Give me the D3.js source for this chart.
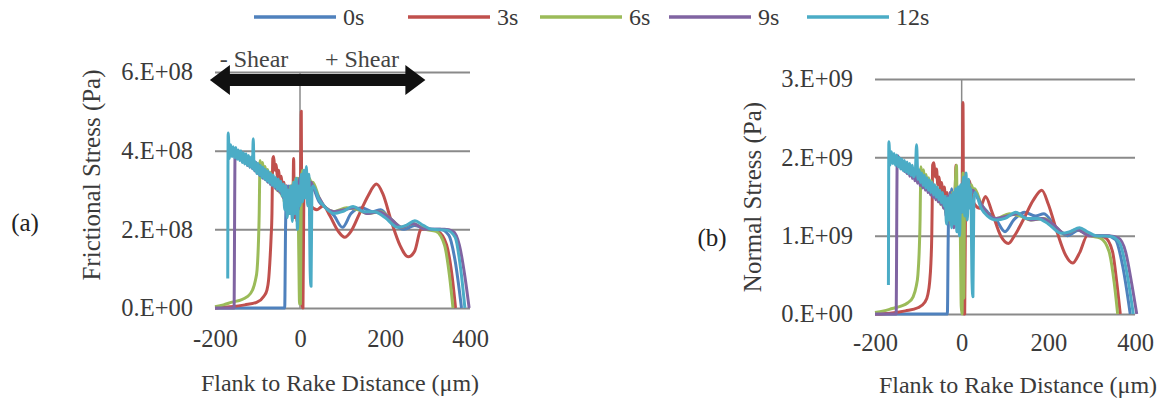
<!DOCTYPE html>
<html>
<head>
<meta charset="utf-8">
<script src="https://cdn.jsdelivr.net/npm/d3@7"></script>
<style>
    body { margin: 0; background: #fff; }
    svg { display: block; font-family: "Liberation Serif", "Times New Roman", serif; }
</style>
</head>
<body>
<svg id="chart" width="1167" height="403"></svg>
<script>
'use strict';

// ---- data (x in µm, y in units of the panel, see unit below) ----
const seriesNames = ['0s', '3s', '6s', '9s', '12s'];
const seriesColors = ['#4F81BD', '#C0504D', '#9BBB59', '#8064A2', '#4BACC6'];
const distanceTicks = [-200, 0, 200, 400];
const frictionTicks = [0, 2e8, 4e8, 6e8];
const normalTicks = [0, 1e9, 2e9, 3e9];

// frictional stress, x1e8 Pa
const friction0s = [[-200,0],[-36,0],[-34,2.0],[-32,2.9],[-29,2.4],[-26,3.1],[-23,2.5],[-20,3.0],[-17,2.3],[-14,3.2],[-11,2.5],[-8,3.1],[-5,2.4],[-2,3.3],[1,2.7],[4,3.4],[7,2.8],[10,3.4],[13,2.9],[16,3.3],[20,3.0],[25,3.2],[30,3.1],[45,2.7],[60,2.55],[80,2.35],[100,2.05],[120,2.4],[145,2.55],[170,2.45],[190,2.5],[215,2.2],[245,2.0],[270,2.1],[300,2.0],[330,2.0],[350,1.85],[365,1.2],[380,0]];
const friction3s = [[-200,0],[-165,0.03],[-130,0.08],[-101,0.15],[-85,0.3],[-78,0.45],[-74,0.7],[-71,1.15],[-68,1.8],[-66,2.4],[-65,3.2],[-64,3.8],[-62,3.85],[-59,3.5],[-56,3.65],[-53,3.3],[-50,3.5],[-47,3.15],[-44,3.35],[-41,3.0],[-38,3.2],[-35,2.8],[-32,3.1],[-29,2.7],[-26,3.0],[-23,2.6],[-20,2.9],[-17,2.5],[-15,3.8],[-13,2.3],[-10,2.7],[-7,2.2],[-4,2.8],[-1,2.5],[1,3.0],[3,5.0],[5,0.05],[7,0],[9,2.8],[13,3.2],[17,3.4],[21,2.9],[25,2.6],[40,2.5],[55,2.6],[70,2.35],[90,1.95],[105,1.8],[120,1.95],[140,2.4],[160,2.85],[180,3.15],[195,2.9],[215,2.2],[235,1.6],[255,1.3],[270,1.45],[285,2.0],[305,2.0],[325,1.95],[345,1.6],[358,0.8],[366,0]];
const friction6s = [[-200,0.03],[-180,0.08],[-160,0.15],[-140,0.2],[-125,0.28],[-112,0.45],[-105,0.7],[-101,0.97],[-98,1.6],[-96,2.4],[-95,3.2],[-94,3.75],[-91,3.5],[-88,3.7],[-85,3.4],[-82,3.6],[-79,3.3],[-76,3.52],[-73,3.22],[-70,3.45],[-67,3.15],[-64,3.38],[-61,3.08],[-58,3.3],[-55,3.0],[-52,3.24],[-49,2.95],[-46,3.18],[-43,2.85],[-40,3.1],[-37,2.7],[-34,3.05],[-31,2.5],[-28,3.0],[-25,2.4],[-22,3.1],[-19,2.5],[-16,3.2],[-13,2.6],[-10,3.3],[-7,2.7],[-5,3.3],[-3,1.5],[-1,0.1],[1,0.1],[3,3.0],[6,3.5],[10,3.2],[14,3.4],[18,3.1],[22,3.3],[26,3.2],[30,3.2],[45,2.8],[60,2.55],[80,2.45],[110,2.55],[135,2.5],[160,2.4],[190,2.45],[215,2.25],[240,2.05],[265,2.15],[295,2.0],[320,1.95],[340,1.6],[352,0.8],[360,0]];
const friction9s = [[-200,0],[-155,0],[-154,2.0],[-153,3.9],[-151,4.05],[-148,3.8],[-145,4.0],[-142,3.78],[-139,3.97],[-136,3.72],[-133,3.92],[-130,3.68],[-127,3.88],[-124,3.62],[-121,3.84],[-118,3.58],[-115,3.8],[-112,3.54],[-109,3.74],[-106,3.48],[-103,3.7],[-100,3.42],[-97,3.64],[-94,3.36],[-91,3.58],[-88,3.3],[-85,3.52],[-82,3.26],[-79,3.46],[-76,3.2],[-73,3.42],[-70,3.14],[-67,3.36],[-64,3.1],[-61,3.3],[-58,3.04],[-55,3.26],[-52,2.98],[-49,3.2],[-46,2.92],[-43,3.14],[-40,2.8],[-37,3.1],[-34,2.6],[-31,3.1],[-28,2.4],[-25,3.0],[-22,2.5],[-19,3.1],[-16,2.3],[-13,3.1],[-10,2.4],[-7,3.2],[-4,2.5],[-1,3.3],[2,2.7],[5,3.4],[8,2.8],[11,3.4],[14,3.0],[18,3.3],[22,3.1],[26,3.2],[30,3.1],[45,2.8],[60,2.55],[80,2.45],[105,2.5],[130,2.55],[160,2.4],[185,2.45],[210,2.3],[240,2.05],[265,2.15],[295,2.0],[340,2.0],[360,1.95],[375,1.6],[388,0.8],[398,0]];
const friction12s = [[-170,0.75],[-169,4.45],[-166,3.8],[-163,4.15],[-160,3.85],[-157,4.1],[-154,3.82],[-151,4.08],[-148,3.78],[-145,4.02],[-142,3.75],[-139,4.0],[-136,3.7],[-133,3.95],[-130,3.66],[-127,3.92],[-124,3.62],[-121,3.88],[-118,3.58],[-115,3.84],[-112,3.55],[-110,4.3],[-108,3.5],[-105,3.72],[-102,3.42],[-99,3.68],[-96,3.38],[-93,3.62],[-90,3.32],[-87,3.58],[-84,3.28],[-81,3.52],[-78,3.22],[-75,3.48],[-72,3.18],[-69,3.42],[-66,3.12],[-63,3.38],[-60,3.08],[-57,3.32],[-54,3.02],[-51,3.28],[-48,2.98],[-45,3.22],[-42,2.85],[-39,3.15],[-36,2.5],[-33,3.1],[-30,2.3],[-27,3.0],[-24,2.4],[-21,3.1],[-18,2.2],[-15,3.2],[-12,2.4],[-9,3.3],[-6,2.0],[-3,3.1],[0,2.6],[3,3.4],[6,2.7],[9,3.5],[12,2.8],[15,3.6],[18,2.6],[21,3.4],[24,0.9],[26,0.55],[28,3.0],[31,3.1],[45,2.75],[60,2.55],[80,2.4],[100,2.45],[125,2.58],[150,2.45],[175,2.45],[200,2.3],[230,2.05],[250,2.1],[270,2.22],[290,2.1],[310,2.0],[345,1.98],[365,1.8],[378,1.0],[388,0]];

// normal stress, x1e9 Pa
const normal0s = [[-200,0],[-33,0],[-31,1.0],[-29,1.5],[-26,1.2],[-23,1.6],[-20,1.15],[-17,1.55],[-14,1.2],[-11,1.6],[-8,1.25],[-5,1.62],[-2,1.3],[1,1.65],[4,1.35],[7,1.7],[10,1.45],[14,1.68],[18,1.5],[22,1.62],[26,1.55],[30,1.55],[45,1.4],[60,1.3],[80,1.2],[100,1.05],[120,1.2],[145,1.3],[170,1.25],[190,1.28],[215,1.12],[245,1.0],[270,1.07],[300,1.0],[335,1.0],[355,0.95],[372,0.6],[389,0]];
const normal3s = [[-200,0],[-165,0.01],[-130,0.04],[-101,0.08],[-85,0.15],[-78,0.25],[-74,0.4],[-71,0.65],[-69,1.0],[-68,1.4],[-67,1.9],[-64,1.93],[-61,1.75],[-58,1.85],[-55,1.65],[-52,1.75],[-49,1.58],[-46,1.68],[-43,1.5],[-40,1.62],[-37,1.42],[-34,1.55],[-31,1.35],[-28,1.5],[-25,1.3],[-22,1.45],[-19,1.2],[-16,1.35],[-13,1.9],[-11,1.1],[-7,1.4],[-3,1.2],[1,1.5],[3,2.7],[5,0],[7,0],[9,1.4],[13,1.6],[18,1.7],[24,1.5],[30,1.4],[42,1.35],[55,1.5],[70,1.3],[90,1.0],[108,0.9],[122,1.0],[142,1.2],[165,1.45],[185,1.58],[200,1.4],[220,1.05],[240,0.75],[256,0.65],[272,0.78],[290,1.0],[310,1.0],[330,0.98],[348,0.8],[358,0.4],[366,0]];
const normal6s = [[-200,0.02],[-180,0.04],[-160,0.07],[-140,0.1],[-125,0.14],[-112,0.22],[-105,0.35],[-101,0.5],[-98,0.8],[-96,1.2],[-95,1.6],[-94,1.88],[-91,1.72],[-88,1.84],[-85,1.66],[-82,1.78],[-79,1.6],[-76,1.74],[-73,1.56],[-70,1.7],[-67,1.52],[-64,1.65],[-61,1.48],[-58,1.62],[-55,1.44],[-52,1.58],[-49,1.4],[-46,1.54],[-43,1.36],[-40,1.5],[-37,1.3],[-34,1.5],[-31,1.2],[-28,1.5],[-25,1.15],[-22,1.55],[-19,1.2],[-16,1.5],[-12,1.9],[-10,1.2],[-6,1.6],[-3,1.0],[-1,0.1],[1,0],[3,1.8],[5,0.2],[7,1.75],[10,1.6],[14,1.7],[18,1.55],[22,1.65],[26,1.6],[30,1.6],[45,1.4],[60,1.28],[80,1.22],[110,1.28],[135,1.25],[160,1.2],[190,1.22],[215,1.12],[240,1.02],[265,1.08],[295,1.0],[320,0.97],[340,0.8],[352,0.4],[360,0]];
const normal9s = [[-200,0],[-151,0],[-150,1.0],[-149,1.95],[-147,2.02],[-144,1.88],[-141,1.98],[-138,1.85],[-135,1.95],[-132,1.82],[-129,1.92],[-126,1.79],[-123,1.9],[-120,1.76],[-117,1.87],[-114,1.73],[-111,1.84],[-108,1.7],[-105,1.81],[-102,1.67],[-99,1.78],[-96,1.64],[-93,1.75],[-90,1.61],[-87,1.72],[-84,1.58],[-81,1.69],[-78,1.55],[-75,1.66],[-72,1.52],[-69,1.63],[-66,1.49],[-63,1.6],[-60,1.46],[-57,1.57],[-54,1.43],[-51,1.54],[-48,1.4],[-45,1.52],[-42,1.35],[-39,1.5],[-36,1.25],[-33,1.5],[-30,1.2],[-27,1.55],[-24,1.15],[-21,1.5],[-18,1.1],[-15,1.55],[-12,1.2],[-9,1.6],[-6,1.25],[-3,1.62],[0,1.3],[3,1.7],[6,1.45],[10,1.68],[14,1.5],[18,1.62],[22,1.55],[26,1.58],[30,1.55],[45,1.4],[60,1.28],[80,1.22],[105,1.25],[130,1.28],[160,1.2],[185,1.22],[210,1.15],[240,1.02],[265,1.08],[295,1.0],[340,1.0],[362,0.97],[378,0.8],[392,0.4],[404,0]];
const normal12s = [[-169,0.37],[-168,2.2],[-165,1.9],[-162,2.07],[-159,1.92],[-156,2.05],[-153,1.9],[-150,2.03],[-147,1.88],[-144,2.0],[-141,1.85],[-138,1.98],[-135,1.83],[-132,1.96],[-129,1.81],[-126,1.94],[-123,1.79],[-120,1.92],[-117,1.77],[-114,1.9],[-111,1.75],[-107,1.82],[-104,2.16],[-101,1.72],[-98,1.84],[-95,1.68],[-92,1.8],[-89,1.64],[-86,1.77],[-83,1.61],[-80,1.74],[-77,1.58],[-74,1.71],[-71,1.55],[-68,1.68],[-65,1.52],[-62,1.65],[-59,1.49],[-56,1.62],[-53,1.46],[-50,1.58],[-47,1.42],[-44,1.55],[-41,1.38],[-38,1.5],[-35,1.15],[-32,1.48],[-29,1.2],[-26,1.52],[-23,1.1],[-20,1.55],[-17,1.15],[-14,1.6],[-11,1.05],[-8,1.62],[-5,1.0],[-2,1.65],[1,1.3],[4,1.75],[7,1.25],[10,1.8],[13,1.2],[16,1.72],[19,1.35],[21,1.6],[24,0.4],[26,0.22],[28,1.4],[31,1.55],[45,1.35],[60,1.25],[80,1.2],[100,1.22],[125,1.3],[150,1.22],[175,1.22],[200,1.15],[230,1.03],[250,1.05],[272,1.1],[290,1.05],[310,1.0],[345,0.99],[365,0.9],[382,0.5],[396,0]];

const panels = [
    {
        series: [friction0s, friction3s, friction6s, friction9s, friction12s],
        unit: 1e8, ticks: frictionTicks,
        x0: 215, x1: 470, yBottom: 308, yTop: 72,
        title: 'Frictional Stress (Pa)', titleX: 91, titleY: 175,
        tag: '(a)', tagX: 25, tagY: 222,
        xTickY: 347, xTitleX: 340, xTitleY: 391,
        shear: true
    },
    {
        series: [normal0s, normal3s, normal6s, normal9s, normal12s],
        unit: 1e9, ticks: normalTicks,
        x0: 875, x1: 1135, yBottom: 314, yTop: 79,
        title: 'Normal Stress (Pa)', titleX: 752, titleY: 197,
        tag: '(b)', tagX: 712, tagY: 237,
        xTickY: 351, xTitleX: 1018, xTitleY: 393,
        shear: false
    }
];

const svg = d3.select('#chart');
const GRID = '#8a8a8a';
const TEXT = '#3a3a3a';
const SERIF = '"Liberation Serif", "Times New Roman", serif';
const TICK_FONT = 24.5;

// "6.E+08" style labels
function sci(v) {
    if (v === 0) return '0.E+00';
    const e = Math.floor(Math.log10(v));
    const m = Math.round(v / Math.pow(10, e));
    return m + '.E+' + String(e).padStart(2, '0');
}

function drawPanel(p) {
    const x = d3.scaleLinear().domain([-200, 400]).range([p.x0, p.x1]);
    const y = d3.scaleLinear().domain([0, d3.max(p.ticks)]).range([p.yBottom, p.yTop]);
    const g = svg.append('g');

    // horizontal gridlines + y labels
    const yAxis = g.append('g')
        .attr('transform', `translate(${p.x0},0)`)
        .call(d3.axisLeft(y).tickValues(p.ticks).tickFormat(sci)
            .tickSize(-(p.x1 - p.x0)).tickPadding(22));
    yAxis.select('.domain').remove();
    yAxis.selectAll('line').attr('stroke', GRID).attr('stroke-width', 2);
    yAxis.selectAll('text').attr('fill', TEXT).style('font-size', TICK_FONT + 'px')
        .style('font-family', SERIF);

    // vertical axis line at x = 0
    g.append('line')
        .attr('x1', x(0)).attr('x2', x(0))
        .attr('y1', y(d3.max(p.ticks))).attr('y2', y(0))
        .attr('stroke', GRID).attr('stroke-width', 1.5);

    // x labels (plain hyphen minus, as in the source)
    const xAxis = g.append('g')
        .attr('transform', `translate(0,${p.xTickY - 0.71 * TICK_FONT})`)
        .call(d3.axisBottom(x).tickValues(distanceTicks).tickFormat(d => String(d))
            .tickSize(0).tickPadding(0));
    xAxis.select('.domain').remove();
    xAxis.selectAll('text').attr('fill', TEXT).attr('dy', '0.71em')
        .style('font-size', TICK_FONT + 'px').style('font-family', SERIF);

    // series
    const line = d3.line()
        .x(d => x(d[0]))
        .y(d => y(d[1] * p.unit))
        .curve(d3.curveMonotoneX);

    g.selectAll('.series')
        .data(p.series)
        .enter()
        .append('path')
        .attr('class', 'series')
        .attr('d', line)
        .attr('fill', 'none')
        .attr('stroke', (d, i) => seriesColors[i])
        .attr('stroke-width', 3)
        .attr('stroke-linejoin', 'round');

    // titles
    g.append('text')
        .attr('transform', `translate(${p.titleX},${p.titleY}) rotate(-90)`)
        .attr('text-anchor', 'middle').attr('dy', '0.35em')
        .attr('fill', TEXT).style('font-size', '25px')
        .text(p.title);

    g.append('text')
        .attr('x', p.xTitleX).attr('y', p.xTitleY)
        .attr('text-anchor', 'middle')
        .attr('fill', TEXT).style('font-size', '24px')
        .text('Flank to Rake Distance (μm)');

    g.append('text')
        .attr('x', p.tagX).attr('y', p.tagY)
        .attr('text-anchor', 'middle').attr('dy', '0.35em')
        .attr('fill', '#222').style('font-size', '25px')
        .text(p.tag);

    if (p.shear) drawShear(g, x);
}

function drawShear(g, x) {
    const cy = 80, half = 6, head = 15, len = 20;
    const l = x(-212), r = x(295);
    const pts = [
        [l, cy], [l + len, cy - head], [l + len, cy - half], [r - len, cy - half],
        [r - len, cy - head], [r, cy], [r - len, cy + head], [r - len, cy + half],
        [l + len, cy + half], [l + len, cy + head]
    ];
    g.append('polygon')
        .attr('points', pts.map(d => d.join(',')).join(' '))
        .attr('fill', '#111');

    g.append('text').attr('x', 254).attr('y', 67).attr('text-anchor', 'middle')
        .attr('fill', '#444').style('font-size', '24px').text('- Shear');
    g.append('text').attr('x', 362).attr('y', 67).attr('text-anchor', 'middle')
        .attr('fill', '#444').style('font-size', '24px').text('+ Shear');
}

function drawLegend() {
    const starts = [254, 408, 540, 669, 807];
    const lg = svg.append('g');
    const items = lg.selectAll('g')
        .data(seriesNames)
        .enter()
        .append('g')
        .attr('transform', (d, i) => `translate(${starts[i]},17)`);

    items.append('line')
        .attr('x1', 0).attr('x2', 82)
        .attr('stroke', (d, i) => seriesColors[i])
        .attr('stroke-width', 3.5);

    items.append('text')
        .attr('x', 89).attr('dy', '0.35em')
        .attr('fill', TEXT).style('font-size', '24px')
        .text(d => d);
}

panels.forEach(drawPanel);
drawLegend();
</script>
</body>
</html>
